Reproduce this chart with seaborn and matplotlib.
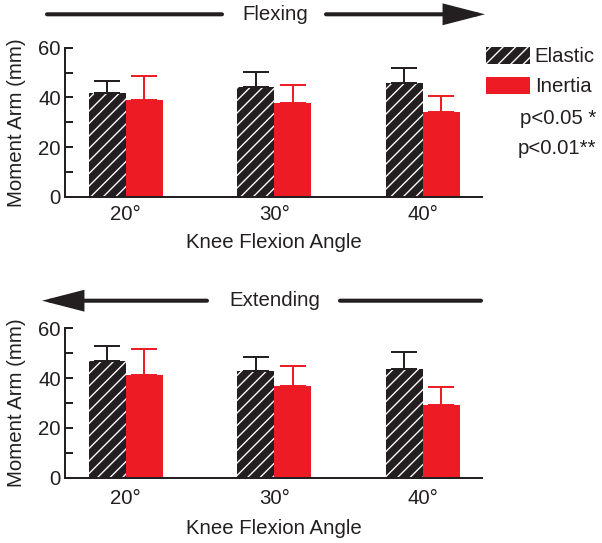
import numpy as np
import pandas as pd
import seaborn as sns
import matplotlib
matplotlib.use("Agg")
import matplotlib.pyplot as plt
from matplotlib.patches import Patch, FancyArrowPatch

# ---------------- data ----------------
angles = ["20°", "30°", "40°"]
conditions = ["Elastic", "Inertia"]

flex_elastic = [41.9, 44.2, 45.7]
flex_elastic_sd = [4.6, 6.2, 6.1]
flex_inertia = [39.0, 37.6, 34.3]
flex_inertia_sd = [9.5, 7.4, 6.4]

ext_elastic = [47.0, 42.7, 43.7]
ext_elastic_sd = [5.8, 5.9, 6.8]
ext_inertia = [41.2, 36.7, 29.2]
ext_inertia_sd = [10.6, 8.0, 7.3]

y_ticks = [0, 20, 40, 60]
y_minor = [10, 30, 50]
p_labels = ["p<0.05 *", "p<0.01**"]

# ---------------- style ----------------
DPI = 75
W, H = 602, 543
BLACK = "#231f20"
RED = "#ed1c24"
FS = 19.5

sns.set_style("ticks")
plt.rcParams["font.family"] = ["Liberation Sans", "DejaVu Sans"]
plt.rcParams["hatch.linewidth"] = 1.3
plt.rcParams["hatch.color"] = "white"
plt.rcParams["text.color"] = BLACK
plt.rcParams["axes.labelcolor"] = BLACK
plt.rcParams["xtick.color"] = BLACK
plt.rcParams["ytick.color"] = BLACK

fig = plt.figure(figsize=(W / DPI, H / DPI), dpi=DPI)


def px(x, y):
    return (x / W, 1 - y / H)


def make_panel(rect, elastic, elastic_sd, inertia, inertia_sd, xpad, labelpad):
    ax = fig.add_axes(rect)
    df = pd.DataFrame({
        "angle": angles * 2,
        "condition": [conditions[0]] * 3 + [conditions[1]] * 3,
        "value": list(elastic) + list(inertia),
    })
    sns.barplot(data=df, x="angle", y="value", hue="condition",
                order=angles, hue_order=conditions,
                palette=[BLACK, RED], width=0.5, gap=0,
                errorbar=None, legend=False, ax=ax, saturation=1)
    sds = [elastic_sd, inertia_sd]
    cols = [BLACK, RED]
    bar_containers = list(ax.containers)
    for ci, cont in enumerate(bar_containers):
        for bi, bar in enumerate(cont.patches):
            bar.set_linewidth(0)
            if ci == 0:
                bar.set_facecolor(BLACK)
                bar.set_hatch("//")
                bar.set_edgecolor("white")
                if hasattr(bar, "set_hatchcolor"):
                    bar.set_hatchcolor("white")
            else:
                bar.set_facecolor(RED)
                bar.set_edgecolor(RED)
            xc = bar.get_x() + bar.get_width() / 2
            yv = bar.get_height()
            ax.errorbar([xc], [yv], yerr=[[0], [sds[ci][bi]]], fmt="none",
                        ecolor=cols[ci], elinewidth=1.9, capsize=12.5,
                        capthick=1.9, zorder=3)
    ax.set_xlim(-0.41, 2.40)
    ax.set_ylim(0, 60)
    ax.set_yticks(y_ticks)
    ax.set_yticks(y_minor, minor=True)
    ax.tick_params(axis="y", which="both", direction="in", length=7.2,
                   width=1.9, labelsize=FS, pad=4)
    ax.tick_params(axis="x", length=0, labelsize=FS, pad=xpad)
    for s in ["top", "right"]:
        ax.spines[s].set_visible(False)
    for s in ["left", "bottom"]:
        ax.spines[s].set_linewidth(1.9)
        ax.spines[s].set_color(BLACK)
    ax.set_xlabel("Knee Flexion Angle", fontsize=FS, labelpad=labelpad)
    ax.set_ylabel("Moment Arm (mm)", fontsize=FS)
    ax.yaxis.set_label_coords(-0.093, 0.5)
    return ax


ax1 = make_panel([65 / W, 1 - 196.7 / H, 417 / W, 149 / H],
                 flex_elastic, flex_elastic_sd, flex_inertia, flex_inertia_sd,
                 xpad=8, labelpad=9)
ax2 = make_panel([65 / W, 1 - 477.7 / H, 417 / W, 149.4 / H],
                 ext_elastic, ext_elastic_sd, ext_inertia, ext_inertia_sd,
                 xpad=10.5, labelpad=10.5)

# ---------------- arrows & direction labels ----------------
LW = 3.9


def line(x0, x1, y, style="-"):
    a = FancyArrowPatch(px(x0, y), px(x1, y), transform=fig.transFigure,
                        arrowstyle=style, color=BLACK, lw=LW,
                        shrinkA=0, shrinkB=0, mutation_scale=1,
                        capstyle="round", joinstyle="miter")
    fig.add_artist(a)


line(47, 222, 14.3)
line(326, 485, 14.3, "-|>,head_length=31,head_width=8")
fig.text(*px(275.5, 14.3), "Flexing", fontsize=FS, ha="center", va="center")

line(207, 42, 300.7, "-|>,head_length=31,head_width=8")
line(340, 481, 300.7)
fig.text(*px(275, 300.7), "Extending", fontsize=FS, ha="center", va="center")

# ---------------- legend ----------------
handles = [Patch(facecolor=BLACK, edgecolor="white", hatch="//", lw=0),
           Patch(facecolor=RED, edgecolor=RED, lw=0)]
if hasattr(handles[0], "set_hatchcolor"):
    handles[0].set_hatchcolor("white")
fig.legend(handles, conditions, loc="upper left",
           bbox_to_anchor=px(486, 46.5), frameon=False, fontsize=FS,
           handlelength=2.15, handleheight=0.92, handletextpad=0.25,
           labelspacing=0.52, borderpad=0, borderaxespad=0)

fig.text(*px(596, 119), p_labels[0], fontsize=FS, ha="right", va="center")
fig.text(*px(596, 148), p_labels[1], fontsize=FS, ha="right", va="center")

fig.savefig("out.png", dpi=DPI)
